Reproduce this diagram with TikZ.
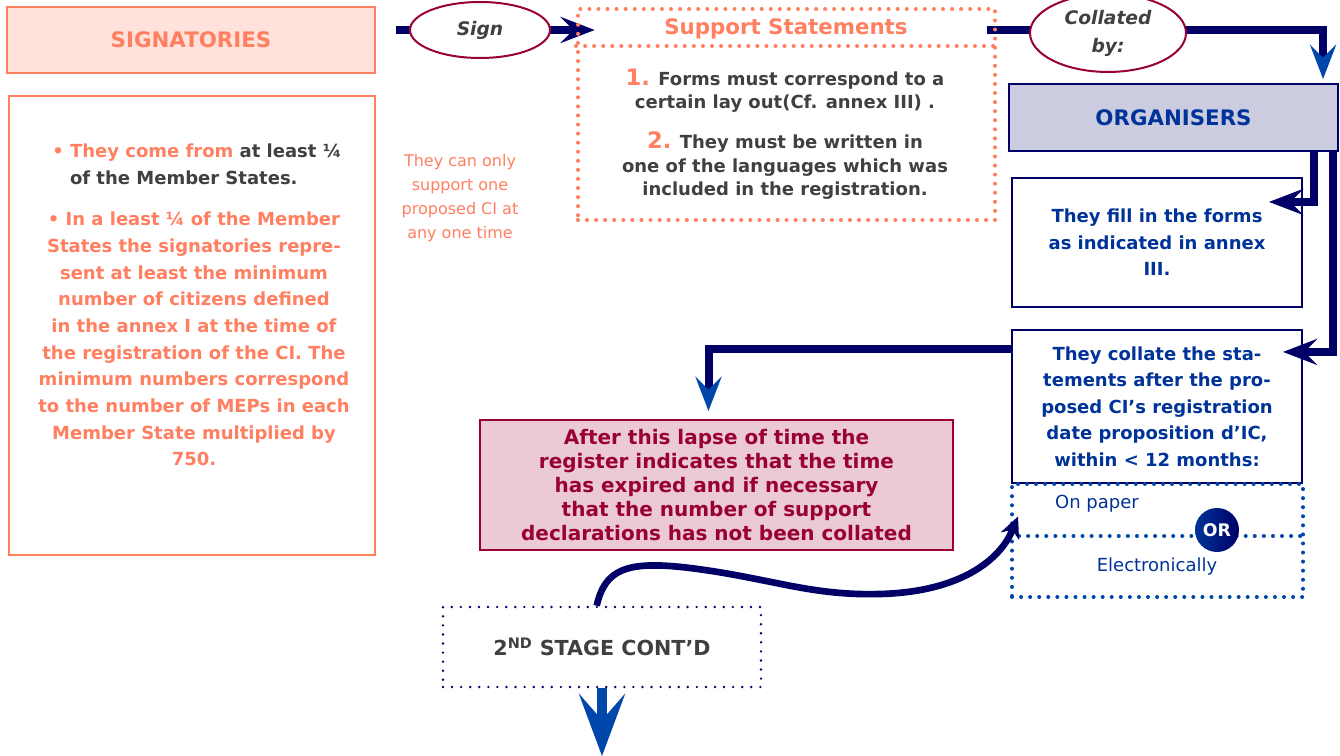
\documentclass[tikz,border=0pt]{standalone}
\usepackage{fontspec}
\setmainfont{DejaVu Sans}
\usetikzlibrary{arrows.meta,positioning,shapes.geometric,backgrounds}

\definecolor{salmon}{HTML}{FF7F60}
\definecolor{salmonfill}{HTML}{FFE2DB}
\definecolor{inkgray}{HTML}{404040}
\definecolor{navy}{HTML}{000066}
\definecolor{royal}{HTML}{0047AB}
\definecolor{textblue}{HTML}{003399}
\definecolor{crimson}{HTML}{990033}
\definecolor{lapsefill}{HTML}{EBC9D5}
\definecolor{lavender}{HTML}{CCCCE0}

\begin{document}
\begin{tikzpicture}[x=0.75pt,y=-0.75pt,font=\bfseries,
    >={Stealth[length=26pt,width=20pt,inset=10pt,line width=0pt]},
    bar/.style={draw=navy,line width=6pt},
    bluetip/.style={-{Stealth[length=26pt,width=20pt,inset=10pt,line width=0pt,color=royal]}},
    oval/.style={ellipse,draw=crimson,line width=1.5pt,fill=white,text=inkgray,align=center,
                 font=\bfseries\itshape\fontsize{14}{21}\selectfont},
    pinkbox/.style={draw=salmon,line width=1.8pt},
    dotbox/.style={line width=3pt,line cap=round,dash pattern=on 0pt off 6.8pt},
    bluebox/.style={draw=navy,line width=1.6pt,fill=white,text=textblue,align=center,
                    minimum width=217.5pt,font=\bfseries\fontsize{13.5}{19.9}\selectfont}]

  \useasboundingbox (0,0) rectangle (1340,756);

  % left column
  \node[pinkbox,fill=salmonfill,text=salmon,minimum width=276pt,minimum height=49.5pt,
        font=\bfseries\fontsize{16}{19}\selectfont] (signat) at (191,40) {SIGNATORIES};
  \node[pinkbox,minimum width=274.5pt,minimum height=344.25pt] (crit) at (192,325.5) {};
  \node[anchor=west,inner sep=0pt,align=left,text=inkgray,
        font=\bfseries\fontsize{13.5}{20}\selectfont] (critA) at (52,164.5)
    {\textcolor{salmon}{• They come from} at least ¼\\\phantom{• }of the Member States.};
  \node[align=center,text=salmon,font=\bfseries\fontsize{13.5}{20}\selectfont] (critB) at (194,339)
    {• In a least ¼ of the Member\\States the signatories repre-\\sent at least the minimum\\
     number of citizens defined\\in the annex I at the time of\\the registration of the CI. The\\
     minimum numbers correspond\\to the number of MEPs in each\\Member State multiplied by\\750.};
  \node[align=center,text=salmon,font=\mdseries\fontsize{12}{18}\selectfont] (once) at (460,198)
    {They can only\\support one\\proposed CI at\\any one time};

  % top row
  \node[oval,minimum width=105pt,minimum height=42pt] (sign) at (480,30) {Sign};
  \node[dotbox,draw=salmon,minimum width=312.75pt,minimum height=158.25pt] (support) at (786.5,114.5) {};
  \coordinate (split) at (0,46);
  \draw[dotbox,draw=salmon] (support.west |- split) -- (support.east |- split);
  \node[text=salmon,font=\bfseries\fontsize{16}{19}\selectfont] (suptitle) at (786,29) {Support Statements};
  \node[align=center,text=inkgray,font=\bfseries\fontsize{13.5}{17.6}\selectfont] (rules) at (785,134)
    {\textcolor{salmon}{\fontsize{17}{17.6}\selectfont 1.} Forms must correspond to a\\
     certain lay out(Cf. annex III) .\\[12.4pt]
     \textcolor{salmon}{\fontsize{17}{17.6}\selectfont 2.} They must be written in\\
     one of the languages which was\\included in the registration.};
  \node[oval,minimum width=117pt,minimum height=46.5pt] (coll) at (1108,33) {Collated\\by:};

  % right column
  \node[draw=navy,line width=1.6pt,fill=lavender,text=textblue,minimum width=246.75pt,
        minimum height=50.25pt,font=\bfseries\fontsize{16}{19}\selectfont] (organ) at (1173.5,117.5) {ORGANISERS};
  \node[bluebox,minimum height=96.75pt] (forms) at (1157,242.5)
    {They fill in the forms\\as indicated in annex\\III.};
  \node[bluebox,minimum height=114.75pt] (collate) at (1157,406.5)
    {They collate the sta-\\tements after the pro-\\posed CI’s registration\\date proposition d’IC,\\within < 12 months:};
  \node[dotbox,draw=royal,minimum width=218.25pt,minimum height=84.75pt] (media) at (1157.5,540.5) {};
  \coordinate (mediasplit) at (0,536);
  \draw[dotbox,draw=royal] (media.west |- mediasplit) -- (media.east |- mediasplit);
  \node[text=textblue,font=\mdseries\fontsize{13.5}{16}\selectfont] (paper) at (1097,504) {On paper};
  \node[text=textblue,font=\mdseries\fontsize{13.5}{16}\selectfont] (elec) at (1157,567) {Electronically};
  \node[circle,minimum size=33pt,inner sep=0pt,left color=textblue,right color=navy,text=white,
        font=\bfseries\fontsize{13}{15}\selectfont] (or) at (1217,530) {OR};

  % lower middle
  \node[draw=crimson,line width=1.6pt,fill=lapsefill,text=crimson,align=center,minimum width=354.75pt,
        minimum height=97.5pt,font=\bfseries\fontsize{15}{18}\selectfont] (lapse) at (716.5,485)
    {After this lapse of time the\\register indicates that the time\\has expired and if necessary\\
     that the number of support\\declarations has not been collated};
  \node[dotbox,draw=navy,line width=2pt,minimum width=238.5pt,minimum height=60pt,text=inkgray,
        font=\bfseries\fontsize{15.5}{18}\selectfont] (stage) at (602,647) {2\textsuperscript{ND} STAGE CONT’D};
  \coordinate (out) at (602,756);

  % connectors
  \begin{scope}[on background layer]
    \draw[bar,->,shorten <=15pt,shorten >=-14pt] (signat.east |- sign) -- (sign -| support.west);
    \draw[bar,bluetip,shorten <=-7.5pt] (support.east |- sign) -| ([xshift=-12pt,yshift=3pt]organ.north east);
  \end{scope}
  \draw[bar,->] ([xshift=-18.75pt]organ.south east) |- ([xshift=-25.5pt,yshift=-18.75pt]forms.north east);
  \draw[bar,->] ([xshift=-4.5pt]organ.south east) |- ([xshift=-15pt,yshift=-17.25pt]collate.north east);
  \draw[bar,bluetip] ([yshift=-15pt]collate.north west) -| ([xshift=-6pt,yshift=6pt]lapse.north);
  \draw[draw=navy,line width=5pt,-{Stealth[length=16pt,width=15pt,inset=5pt,line width=0pt]}]
    ([xshift=-4pt]stage.north) .. controls (605,570) and (625,560) .. (690,568)
    .. controls (770,578) and (810,596) .. (880,594)
    .. controls (960,592) and (1000,560) .. ([xshift=6pt,yshift=18pt]media.west);
  \draw[draw=royal,line width=7.5pt,-{Stealth[length=47pt,width=35pt,inset=20pt,line width=0pt]}]
    (stage.south) -- (out);
\end{tikzpicture}
\end{document}
